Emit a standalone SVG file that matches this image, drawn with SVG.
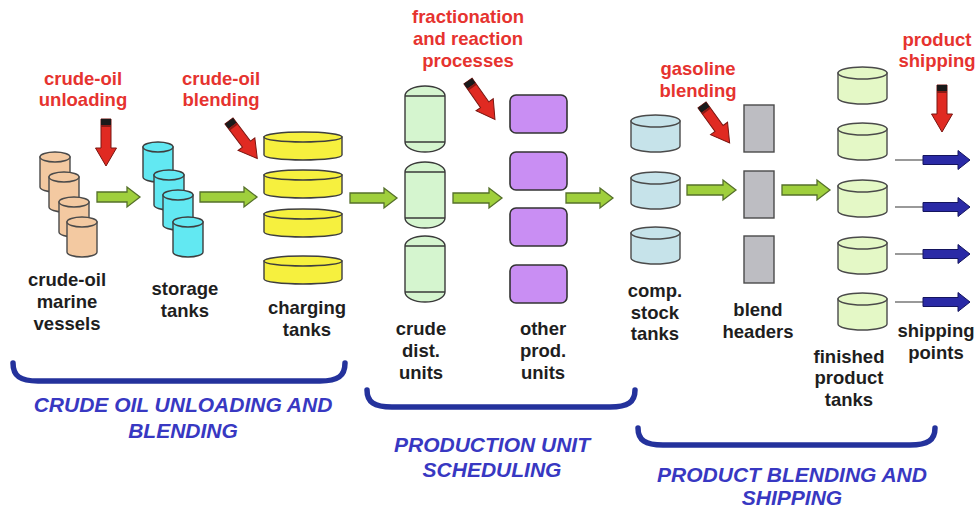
<svg xmlns="http://www.w3.org/2000/svg" xmlns:xlink="http://www.w3.org/1999/xlink" width="980" height="511" viewBox="0 0 980 511">
<style>
  text { font-family: "Liberation Sans", Arial, sans-serif; font-weight: bold; text-anchor: middle; }
  .lbl { font-size: 18.5px; fill: #1e1e1e; }
  .red { font-size: 18.5px; fill: #e6332f; }
  .sec { font-size: 21px; font-style: italic; fill: #3838c2; }
  .tan { fill: #f3c9a1; stroke: #4a4a4a; stroke-width: 1.4; }
  .cyan { fill: #62e8f2; stroke: #3e3e3e; stroke-width: 1.4; }
  .yel { fill: #f6f03e; stroke: #3e3e3e; stroke-width: 1.4; }
  .cdu { fill: #d5f5cf; stroke: #3a3a3a; stroke-width: 1.4; }
  .pur { fill: #c98ef3; stroke: #333; stroke-width: 1.6; }
  .comp { fill: #c6e3ea; stroke: #4a4a4a; stroke-width: 1.4; }
  .fin { fill: #e4f8c6; stroke: #4a4a4a; stroke-width: 1.4; }
  .hdr { fill: #bdbdc2; stroke: #4a4a4a; stroke-width: 1.4; }
  .garr { fill: #9fcf3c; stroke: #55702a; stroke-width: 1.3; }
  .brk { fill: none; stroke: #24329c; stroke-width: 5.5; stroke-linecap: round; }
</style>
<defs>
  <g id="cylS"><path d="M0,5 V35 A15,5 0 0 0 30,35 V5 Z"/><ellipse cx="15" cy="5" rx="15" ry="5"/></g>
  <g id="disk"><path d="M0,5 V23 A39,5 0 0 0 78,23 V5 Z"/><ellipse cx="39" cy="5" rx="39" ry="5"/></g>
  <g id="capsule"><path d="M0,10 A20,10 0 0 1 40,10 V56 A20,10 0 0 1 0,56 Z"/><path d="M0,10 H40 M0,56 H40" fill="none"/></g>
  <g id="tankW"><path d="M0,6 V31 A24.5,6 0 0 0 49,31 V6 Z"/><ellipse cx="24.5" cy="6" rx="24.5" ry="6"/></g>
  <g id="redArr">
    <path d="M-5,0 H5 V29 H10.5 L0,47 L-10.5,29 H-5 Z" fill="#e02a22" stroke="#7a1510" stroke-width="1"/>
    <rect x="-5" y="0" width="10" height="6" fill="#1a1a1a"/>
    <rect x="-5" y="6" width="10" height="2" fill="#8a1a14"/>
  </g>
  <g id="blueArr">
    <path d="M-28,0 H0" stroke="#777" stroke-width="1.5" fill="none"/>
    <path d="M0,-4.5 H35 V-9.5 L47,0 L35,9.5 V4.5 H0 Z" fill="#2a2aa6" stroke="#14145e" stroke-width="1"/>
  </g>
</defs>
<rect width="980" height="511" fill="#ffffff"/>

<g id="marine-vessels">
  <use xlink:href="#cylS" class="tan" x="40" y="152"/>
  <use xlink:href="#cylS" class="tan" x="49" y="172"/>
  <use xlink:href="#cylS" class="tan" x="59" y="197"/>
  <use xlink:href="#cylS" class="tan" x="67" y="217"/>
  <text class="lbl" x="67" y="286">crude-oil</text>
  <text class="lbl" x="67" y="308">marine</text>
  <text class="lbl" x="67" y="330">vessels</text>
</g>

<g id="storage-tanks">
  <use xlink:href="#cylS" class="cyan" x="143" y="142"/>
  <use xlink:href="#cylS" class="cyan" x="154" y="170"/>
  <use xlink:href="#cylS" class="cyan" x="163" y="190"/>
  <use xlink:href="#cylS" class="cyan" x="173" y="217"/>
  <text class="lbl" x="185" y="295">storage</text>
  <text class="lbl" x="185" y="317">tanks</text>
</g>

<g id="charging-tanks">
  <use xlink:href="#disk" class="yel" x="264" y="132"/>
  <use xlink:href="#disk" class="yel" x="264" y="170"/>
  <use xlink:href="#disk" class="yel" x="264" y="209"/>
  <use xlink:href="#disk" class="yel" x="264" y="256"/>
  <text class="lbl" x="307" y="314">charging</text>
  <text class="lbl" x="307" y="336">tanks</text>
</g>

<g id="crude-dist-units">
  <use xlink:href="#capsule" class="cdu" x="405" y="86"/>
  <use xlink:href="#capsule" class="cdu" x="405" y="162"/>
  <use xlink:href="#capsule" class="cdu" x="405" y="236"/>
  <text class="lbl" x="421" y="335">crude</text>
  <text class="lbl" x="421" y="357">dist.</text>
  <text class="lbl" x="421" y="379">units</text>
</g>

<g id="other-prod-units">
  <rect class="pur" x="510" y="95" width="57" height="38" rx="6"/>
  <rect class="pur" x="510" y="152" width="57" height="38" rx="6"/>
  <rect class="pur" x="510" y="208" width="57" height="38" rx="6"/>
  <rect class="pur" x="510" y="265" width="57" height="38" rx="6"/>
  <text class="lbl" x="543" y="335">other</text>
  <text class="lbl" x="543" y="357">prod.</text>
  <text class="lbl" x="543" y="379">units</text>
</g>

<g id="comp-stock-tanks">
  <use xlink:href="#tankW" class="comp" x="631" y="115"/>
  <use xlink:href="#tankW" class="comp" x="631" y="172"/>
  <use xlink:href="#tankW" class="comp" x="631" y="227"/>
  <text class="lbl" x="655" y="297">comp.</text>
  <text class="lbl" x="655" y="319">stock</text>
  <text class="lbl" x="655" y="340">tanks</text>
</g>

<g id="blend-headers">
  <rect class="hdr" x="744" y="105" width="30" height="47"/>
  <rect class="hdr" x="744" y="171" width="30" height="47"/>
  <rect class="hdr" x="744" y="236" width="30" height="47"/>
  <text class="lbl" x="758" y="316">blend</text>
  <text class="lbl" x="758" y="338">headers</text>
</g>

<g id="finished-product-tanks">
  <use xlink:href="#tankW" class="fin" x="838" y="67"/>
  <use xlink:href="#tankW" class="fin" x="838" y="123"/>
  <use xlink:href="#tankW" class="fin" x="838" y="180"/>
  <use xlink:href="#tankW" class="fin" x="838" y="237"/>
  <use xlink:href="#tankW" class="fin" x="838" y="293"/>
  <text class="lbl" x="849" y="363">finished</text>
  <text class="lbl" x="849" y="384">product</text>
  <text class="lbl" x="849" y="406">tanks</text>
</g>

<g id="shipping-points">
  <text class="lbl" x="936" y="337">shipping</text>
  <text class="lbl" x="936" y="359">points</text>
</g>

<g id="connectors">
  <path class="garr" d="M97,192 H127 V187 L140,197 L127,207 V202 H97 Z"/>
  <path class="garr" d="M200,192 H244 V187 L257,197 L244,207 V202 H200 Z"/>
  <path class="garr" d="M350,193 H384 V188 L397,198 L384,208 V203 H350 Z"/>
  <path class="garr" d="M453,193 H489 V188 L502,198 L489,208 V203 H453 Z"/>
  <path class="garr" d="M566,193 H600 V188 L613,198 L600,208 V203 H566 Z"/>
  <path class="garr" d="M687,185 H723 V180 L736,190 L723,200 V195 H687 Z"/>
  <path class="garr" d="M782,185 H817 V180 L830,190 L817,200 V195 H782 Z"/>
  <use xlink:href="#blueArr" transform="translate(923,160)"/>
  <use xlink:href="#blueArr" transform="translate(923,207)"/>
  <use xlink:href="#blueArr" transform="translate(923,254)"/>
  <use xlink:href="#blueArr" transform="translate(923,302)"/>
</g>

<g id="activity-pointers">
  <use xlink:href="#redArr" transform="translate(106,119)"/>
  <use xlink:href="#redArr" transform="translate(229,121) rotate(-37)"/>
  <use xlink:href="#redArr" transform="translate(468,81) rotate(-35)"/>
  <use xlink:href="#redArr" transform="translate(702,105) rotate(-36)"/>
  <use xlink:href="#redArr" transform="translate(942,85)"/>
</g>

<g id="activity-labels">
  <text class="red" x="83" y="85">crude-oil</text>
  <text class="red" x="83" y="106">unloading</text>
  <text class="red" x="221" y="85">crude-oil</text>
  <text class="red" x="221" y="106">blending</text>
  <text class="red" x="468" y="23">fractionation</text>
  <text class="red" x="468" y="45">and reaction</text>
  <text class="red" x="468" y="67">processes</text>
  <text class="red" x="698" y="75">gasoline</text>
  <text class="red" x="698" y="97">blending</text>
  <text class="red" x="937" y="46">product</text>
  <text class="red" x="937" y="67">shipping</text>
</g>

<g id="section-crude">
  <path class="brk" d="M13,363 C13,376 20,381 38,381 L320,381 C338,381 345,376 345,363"/>
  <text class="sec" x="183" y="412">CRUDE OIL UNLOADING AND</text>
  <text class="sec" x="183" y="438">BLENDING</text>
</g>

<g id="section-production">
  <path class="brk" d="M367,390 C367,402 374,407 392,407 L610,407 C628,407 635,402 635,390"/>
  <text class="sec" x="492" y="452">PRODUCTION UNIT</text>
  <text class="sec" x="492" y="477">SCHEDULING</text>
</g>

<g id="section-product">
  <path class="brk" d="M638,428 C638,440 645,445 663,445 L910,445 C928,445 935,440 935,428"/>
  <text class="sec" x="792" y="482">PRODUCT BLENDING AND</text>
  <text class="sec" x="792" y="505">SHIPPING</text>
</g>
</svg>
